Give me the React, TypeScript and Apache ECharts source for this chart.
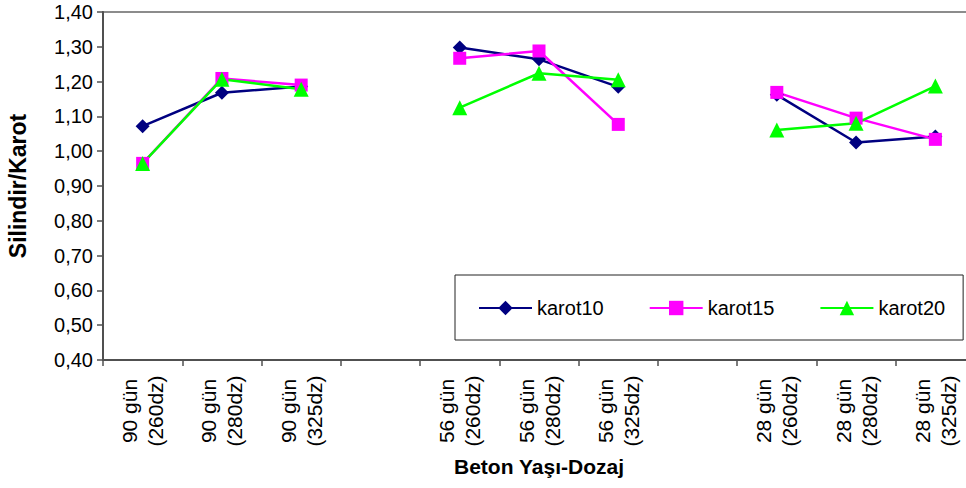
import React, { useEffect, useRef } from "react";
import * as echarts from "echarts";

const categories = [
  "90 gün\n(260dz)",
  "90 gün\n(280dz)",
  "90 gün\n(325dz)",
  "",
  "56 gün\n(260dz)",
  "56 gün\n(280dz)",
  "56 gün\n(325dz)",
  "",
  "28 gün\n(260dz)",
  "28 gün\n(280dz)",
  "28 gün\n(325dz)",
];

const karot10 = [1.072, 1.168, 1.186, null, 1.298, 1.264, 1.185, null, 1.162, 1.025, 1.042];
const karot15 = [0.965, 1.209, 1.19, null, 1.267, 1.288, 1.077, null, 1.169, 1.095, 1.034];
const karot20 = [0.965, 1.207, 1.178, null, 1.125, 1.224, 1.205, null, 1.061, 1.08, 1.187];

const FONT = "'Liberation Sans', Arial, sans-serif";

export default function App() {
  const ref = useRef<HTMLDivElement>(null);

  useEffect(() => {
    if (!ref.current) return;
    const chart = echarts.init(ref.current, null, { renderer: "svg" });
    const axisColor = "#505050";
    chart.setOption({
      animation: false,
      backgroundColor: "#ffffff",
      textStyle: { fontFamily: FONT },
      grid: {
        left: 103,
        top: 12,
        width: 872,
        height: 348,
        show: true,
        borderColor: "#8c8c8c",
        borderWidth: 2,
        outerBoundsMode: "none",
        containLabel: false,
      },
      legend: {
        left: 455,
        top: 275,
        orient: "horizontal",
        padding: [23, 18, 22, 23],
        itemWidth: 53,
        itemHeight: 18,
        itemGap: 45,
        borderColor: "#222",
        borderWidth: 1,
        backgroundColor: "#fff",
        textStyle: { fontFamily: FONT, fontSize: 20, color: "#000" },
        data: ["karot10", "karot15", "karot20"],
      },
      xAxis: {
        type: "category",
        data: categories,
        boundaryGap: true,
        name: "Beton Yaşı-Dozaj",
        nameLocation: "middle",
        nameGap: 96,
        nameTextStyle: { fontFamily: FONT, fontSize: 21, fontWeight: "bold", color: "#000" },
        axisLine: { show: true, onZero: false, lineStyle: { color: axisColor, width: 2 } },
        axisTick: { show: true, interval: 0, length: 6, inside: false, lineStyle: { color: axisColor, width: 1.5 } },
        axisLabel: {
          interval: 0,
          rotate: 90,
          align: "center",
          verticalAlign: "middle",
          margin: 51,
          fontFamily: FONT,
          fontSize: 21,
          lineHeight: 26,
          color: "#000",
        },
        splitLine: { show: false },
      },
      yAxis: {
        type: "value",
        min: 0.4,
        max: 1.4,
        interval: 0.1,
        name: "Silindir/Karot",
        nameLocation: "middle",
        nameGap: 74,
        nameRotate: 90,
        nameTextStyle: { fontFamily: FONT, fontSize: 23, fontWeight: "bold", color: "#000" },
        axisLine: { show: true, lineStyle: { color: axisColor, width: 2 } },
        axisTick: { show: true, length: 6, inside: false, lineStyle: { color: axisColor, width: 1.5 } },
        axisLabel: {
          margin: 10,
          fontFamily: FONT,
          fontSize: 20,
          color: "#000",
          formatter: (v: number) => v.toFixed(2).replace(".", ","),
        },
        splitLine: { show: false },
      },
      series: [
        {
          name: "karot10",
          type: "line",
          data: karot10,
          connectNulls: false,
          symbol: "diamond",
          symbolSize: 14,
          color: "#000080",
          itemStyle: { color: "#000080" },
          lineStyle: { color: "#000080", width: 2.5 },
        },
        {
          name: "karot15",
          type: "line",
          data: karot15,
          connectNulls: false,
          symbol: "rect",
          symbolSize: 13,
          color: "#ff00ff",
          itemStyle: { color: "#ff00ff" },
          lineStyle: { color: "#ff00ff", width: 2.5 },
        },
        {
          name: "karot20",
          type: "line",
          data: karot20,
          connectNulls: false,
          symbol: "triangle",
          symbolSize: 15,
          color: "#00ff00",
          itemStyle: { color: "#00ff00" },
          lineStyle: { color: "#00ff00", width: 2.5 },
        },
      ],
    });
    return () => chart.dispose();
  }, []);

  return (
    <div
      ref={ref}
      style={{ position: "fixed", left: 0, top: 0, width: 966, height: 488, background: "#fff" }}
    />
  );
}
